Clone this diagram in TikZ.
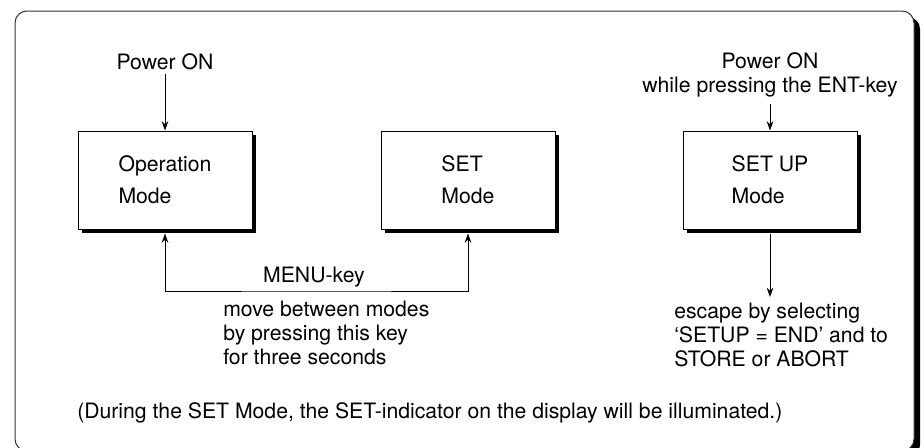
\documentclass[tikz,border=0pt]{standalone}
\usepackage{fontspec}
\setmainfont{TeX Gyre Heros}
\usepackage{tikz}
\usetikzlibrary{positioning,arrows.meta,shadows,calc}
\tikzset{
  modebox/.style={rectangle, draw=black, line width=0.75pt, fill=white,
    align=left, minimum width=130.5pt, minimum height=73.5pt, inner sep=0pt,
    drop shadow={shadow xshift=3pt, shadow yshift=-3pt, fill=black, opacity=1}},
  lbl/.style={align=left, inner sep=0pt},
  flow/.style={-{Stealth[length=7pt,width=5pt]}, draw=black, line width=0.75pt},
  both/.style={{Stealth[length=7pt,width=5pt]}-{Stealth[length=7pt,width=5pt]}, draw=black, line width=0.75pt},
  frame/.style={draw=black!80, line width=0.75pt, fill=white, rounded corners=9pt,
    drop shadow={shadow xshift=4.5pt, shadow yshift=-4.5pt, fill=black, opacity=1}},
}
\newcommand{\txtsize}{\fontsize{15.9}{18}\selectfont}

\begin{document}
\begin{tikzpicture}[x=0.75pt, y=-0.75pt, every node/.style={font=\txtsize}]
\useasboundingbox (0,0) rectangle (924,447);
% ---- outer frame ----
\path[frame] (15,11) rectangle (914,451);
% ---- the three modes ----
\node[modebox] (opmode)    at (165,180) {Operation\\[6pt]Mode};
\node[modebox] (setmode)   at (468,180) {SET\\[6pt]Mode};
\node[modebox] (setupmode) at (770,180) {SET UP\\[6pt]Mode};
% ---- power on labels ----
\node[inner sep=3pt] (pwr1) at (165,62) {Power ON};
\node[align=center, inner sep=0pt] (pwr2) at (770,75) {Power ON\\while pressing the ENT-key};
% ---- MENU-key connector and texts ----
\coordinate (menuline) at (316,291);
\node (menulbl) at (314,277) {MENU-key};
\node[lbl, anchor=north west] (menutxt) at (223,301) {move between modes\\by pressing this key\\for three seconds};
% ---- escape text ----
\node[lbl, anchor=north west, inner ysep=4pt] (esc) at (674,297) {escape by selecting\\‘SETUP = END’ and to\\STORE or ABORT};
% ---- note ----
\node[lbl, anchor=west] (note) at (77,413) {(During the SET Mode, the SET-indicator on the display will be illuminated.)};
% ---- arrows ----
\draw[flow] (pwr1) -- (opmode);
\draw[flow] ([yshift=-5pt]pwr2.south) -- (setupmode);
\draw[both] ([yshift=-3pt]opmode.south) |- (menuline) -| ([yshift=-3pt]setmode.south);
\draw[flow] ([yshift=-3pt]setupmode.south) -- (setupmode.south |- esc.north);
\end{tikzpicture}
\end{document}
